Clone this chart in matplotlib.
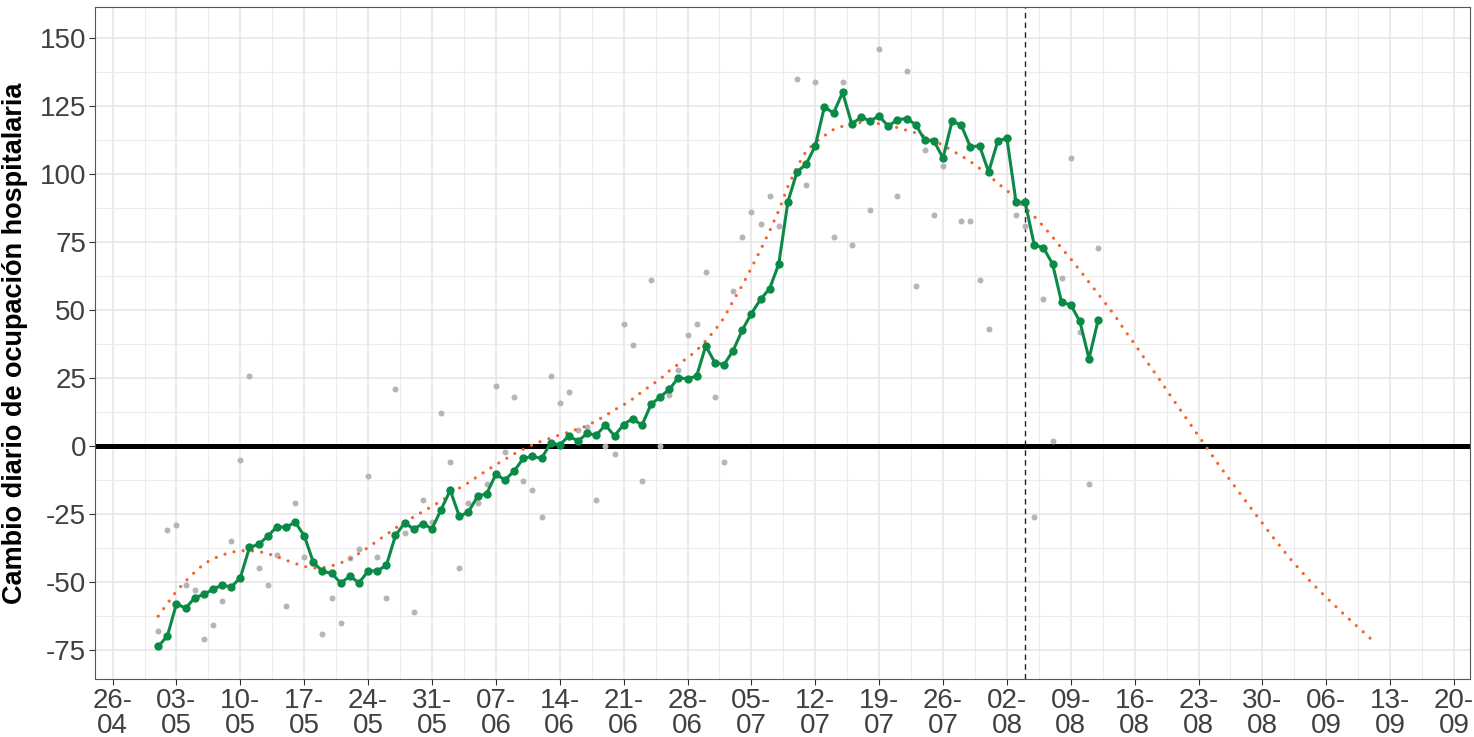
import numpy as np
import pandas as pd
import matplotlib
matplotlib.use("Agg")
import matplotlib.pyplot as plt
import matplotlib.dates as mdates

# cambio diario (puntos grises), 01-05 a 12-08; NaN = no visible
diario = [
    -68.0, -31.1, -29.0, -51.1, -53.2, -71.1, -66.0, -57.1, -35.2, -5.1,
    25.7, -45.1, -51.1, -40.2, -59.1, -21.1, -41.0, -43.0, -69.1, -56.1,
    -65.1, -41.2, -38.1, -11.2, -41.0, -56.1, 20.8, -32.1, -61.0, -20.1,
    -28.2,
    11.9, -6.1, -45.1, -21.1, -21.1, -14.1, 21.8, -2.2, 17.9, -13.1,
    -16.2, -26.1, 25.7, 15.8, 19.9, 5.8, 6.9, -20.1, -0.2, -3.2,
    44.9, 36.9, -13.1, 60.8, -0.2, 18.8, 27.9, 40.8, 44.9, 63.7,
    17.8, -6.1, 56.9, 76.7, 85.8, 81.7, 91.8, 80.9, np.nan, 134.8,
    95.8, 133.8, np.nan, 76.8, 133.8, 73.8, np.nan, 86.8, 145.8, np.nan,
    91.7, 137.7, 58.8, 108.8, 84.8, 102.8, np.nan, 82.8, 82.8, 60.8,
    42.8,
    np.nan, np.nan, 84.8, 80.8, -26.1, 53.8, 1.8, 61.8, 105.8, 41.7,
    -14.2, 72.8,
]

# media movil (linea verde)
media = [
    -73.8, -70.0, -58.1, -59.8, -55.9, -54.7, -52.8, -51.2, -52.0, -48.5,
    -37.4, -36.3, -33.3, -29.8, -30.0, -28.1, -33.1, -42.9, -46.2, -46.9,
    -50.5, -48.0, -50.4, -46.1, -46.0, -44.0, -33.0, -28.4, -30.6, -28.7,
    -30.5,
    -23.5, -16.4, -26.0, -24.3, -18.6, -17.6, -10.5, -12.6, -9.3, -4.7,
    -3.9, -4.7, 1.0, 0.3, 3.6, 1.7, 4.5, 3.9, 7.6, 3.6,
    7.8, 10.0, 7.5, 15.2, 17.9, 20.7, 25.0, 24.6, 25.6, 36.7,
    30.6, 29.8, 35.0, 42.5, 48.6, 53.8, 57.8, 66.8, 89.7, 100.7,
    103.5, 110.3, 124.6, 122.3, 129.9, 118.3, 120.8, 119.5, 121.2, 117.5,
    119.9, 120.3, 118.1, 112.4, 112.1, 105.8, 119.4, 117.8, 109.9, 110.3,
    100.7,
    112.0, 113.1, 89.6, 89.5, 73.8, 72.8, 66.9, 52.7, 51.8, 45.7,
    32.0, 46.2,
]

# curva ajustada (naranja): dias desde 01-05 y valor
ajuste_dia = list(range(0, 134))
ajuste_val = [
    -62.7, -58.0, -53.5, -49.8, -46.5, -43.5, -41.6, -40.2, -39.2, -38.6,
    -38.6, -38.9, -39.7, -40.8, -42.1, -43.3, -44.4, -45.0, -44.9, -44.2,
    -43.1, -41.7, -39.6, -37.4, -35.0, -32.7, -30.3, -28.0, -26.2, -24.2,
    -22.3, -20.3, -18.2, -15.6, -13.6, -11.3, -9.1, -7.0, -5.0, -3.0,
    -1.3, 0.3, 1.7, 2.8, 4.0, 5.0, 6.2, 7.3, 9.2, 11.0,
    13.2, 15.0, 17.2, 19.8, 22.2, 24.5, 27.5, 30.0, 32.3, 35.0,
    38.6, 42.5, 47.0, 53.3, 59.0, 65.4, 72.0, 79.0, 86.5, 95.3,
    102.5, 108.3, 111.5, 114.0, 116.3, 117.5, 118.3, 118.9, 119.0, 118.4,
    117.8, 117.0, 116.0, 115.1, 113.8, 112.2, 110.5, 108.5, 106.6, 104.5,
    102.0, 99.5, 96.5, 93.9, 90.7, 87.5, 84.3, 80.7, 76.8, 72.6,
    68.7, 64.5, 60.1, 55.8, 51.5, 47.0, 42.0, 37.4, 32.5, 27.8,
    23.0, 18.0, 13.2, 8.4, 3.6, -1.2, -6.0, -10.6, -15.1, -19.6,
    -24.1, -28.5, -33.0, -37.2, -41.4, -45.2, -49.0, -52.5, -55.8, -59.0,
    -62.2, -65.3, -68.3, -71.4,
]

inicio = pd.Timestamp("2020-05-01")
corte = pd.Timestamp("2020-08-04")
dias = pd.date_range(inicio, periods=len(media))
dias_ajuste = inicio + pd.to_timedelta(ajuste_dia, unit="D")

plt.rcParams["font.family"] = ["Liberation Sans", "DejaVu Sans"]
plt.rcParams["axes.unicode_minus"] = False

fig = plt.figure(figsize=(14.74, 7.37), dpi=100)
ax = fig.add_axes([0.0642, 0.0783, 0.9334, 0.9117])

semanas = pd.date_range("2020-04-26", "2020-09-20", freq="7D")
ax.set_xticks(semanas)
ax.set_xticks(semanas[:-1] + pd.Timedelta(hours=84), minor=True)
ax.xaxis.set_major_formatter(mdates.DateFormatter("%d-\n%m"))
ax.set_yticks([-75, -50, -25, 0, 25, 50, 75, 100, 125, 150])
ax.set_yticks(np.arange(-87.5, 165, 25), minor=True)
ax.set_xlim(pd.Timestamp("2020-04-26") - pd.Timedelta(days=1.97),
            pd.Timestamp("2020-09-20") + pd.Timedelta(days=1.8))
ax.set_ylim(-85.9, 161.2)

ax.grid(which="major", color="#e4e4e4", linewidth=1.1)
ax.grid(which="minor", color="#ececec", linewidth=0.8)
ax.set_axisbelow(True)
for s in ax.spines.values():
    s.set_color("#555555")
    s.set_linewidth(0.8)

ax.tick_params(which="major", length=4, width=0.8, color="#333333",
               labelsize=20, labelcolor="#404040", pad=2)
ax.tick_params(which="minor", length=0)
for lab in ax.get_xticklabels():
    lab.set_linespacing(0.95)

ax.axhline(0, color="black", linewidth=3.6, zorder=2)
ax.axvline(corte, color="#222222", linewidth=1.0, linestyle=(0, (4, 3)), zorder=2)

ax.plot(dias, diario, "o", color="#b5b5b5", markersize=4.3, markeredgewidth=0, zorder=3)
ax.plot(dias_ajuste, ajuste_val, color="#f4622f", linewidth=2.3,
        linestyle=(0, (0.01, 2.9)), dash_capstyle="round", zorder=4)
ax.plot(dias, media, "-o", color="#0b8a47", linewidth=2.2, markersize=5,
        zorder=5)

ax.set_ylabel("Cambio diario de ocupación hospitalaria", fontsize=19.5,
              fontweight="bold", color="black")
ax.yaxis.set_label_coords(-0.0485, 0.5)

fig.savefig("out.png", dpi=100)
